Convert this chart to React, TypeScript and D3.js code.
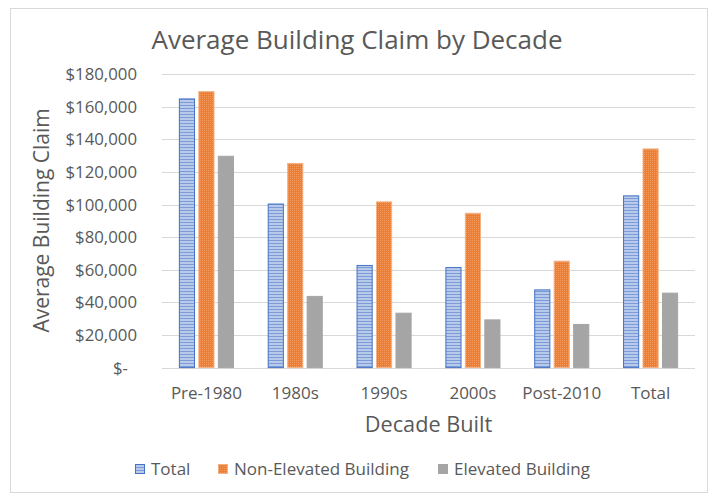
import { useEffect, useRef } from 'react'
import * as d3 from 'd3'

const CATEGORIES = ['Pre-1980', '1980s', '1990s', '2000s', 'Post-2010', 'Total']
const SERIES = ['Total', 'Non-Elevated Building', 'Elevated Building']
const TOTAL = [165200, 100700, 63000, 61700, 48000, 105700]
const NON_ELEVATED = [169700, 125600, 102000, 95000, 65600, 134500]
const ELEVATED = [130000, 44000, 33700, 29600, 26800, 46000]
const Y_TICKS = [0, 20000, 40000, 60000, 80000, 100000, 120000, 140000, 160000, 180000]

const FILLS = ['url(#pat-total)', 'url(#pat-nonelev)', '#A5A5A5']
const STROKES = ['#4472C4', '#F4B183', '#A5A5A5']
const FONT = '"Open Sans", Calibri, sans-serif'
const TEXT = '#595959'

export default function App() {
  const svgRef = useRef<SVGSVGElement>(null)

  useEffect(() => {
    if (!svgRef.current) return
    const svg = d3.select(svgRef.current)
    svg.selectAll('*').remove()

    const H = 500
    const plot = { left: 162, right: 695, top: 74.3, bottom: 367.6 }

    // patterns
    const defs = svg.append('defs')
    const pt = defs.append('pattern').attr('id', 'pat-total')
      .attr('patternUnits', 'userSpaceOnUse').attr('width', 4).attr('height', 3)
    pt.append('rect').attr('width', 4).attr('height', 3).attr('fill', '#B8CAEA')
    pt.append('rect').attr('y', 0).attr('width', 4).attr('height', 1).attr('fill', '#7D9BD8')
    const pn = defs.append('pattern').attr('id', 'pat-nonelev')
      .attr('patternUnits', 'userSpaceOnUse').attr('width', 2).attr('height', 2)
    pn.append('rect').attr('width', 2).attr('height', 2).attr('fill', '#ED7D31')
    pn.append('rect').attr('width', 1).attr('height', 1).attr('fill', '#F29A60')

    // chart border
    svg.append('rect').attr('x', 10.5).attr('y', 8.5).attr('width', 697).attr('height', 484)
      .attr('fill', '#fff').attr('stroke', '#D9D9D9')

    const y = d3.scaleLinear().domain([0, 180000]).range([plot.bottom, plot.top])
    const x0 = d3.scaleBand<string>().domain(CATEGORIES).range([plot.left, plot.right])
      .paddingInner(0.38).paddingOuter(0.19)
    const x1 = d3.scaleBand<string>().domain(SERIES).range([0, x0.bandwidth()]).paddingInner(0.17)

    // gridlines
    svg.append('g').selectAll('line').data(Y_TICKS).join('line')
      .attr('x1', plot.left).attr('x2', plot.right)
      .attr('y1', d => Math.round(y(d)) + 0.5).attr('y2', d => Math.round(y(d)) + 0.5)
      .attr('stroke', '#D9D9D9').attr('stroke-width', 1)

    // y tick labels
    svg.append('g').selectAll('text').data(Y_TICKS).join('text')
      .attr('x', d => (d === 0 ? 128 : 137)).attr('y', d => y(d) + 6)
      .attr('text-anchor', 'end').attr('font-size', '16.8px').attr('font-family', FONT).attr('fill', TEXT)
      .text(d => (d === 0 ? '$-' : d3.format('$,')(d)))

    // bars
    const seriesValues = [TOTAL, NON_ELEVATED, ELEVATED]
    const g = svg.append('g')
    seriesValues.forEach((vals, si) => {
      g.append('g').selectAll('rect').data(vals).join('rect')
        .attr('x', (_, i) => x0(CATEGORIES[i])! + x1(SERIES[si])! + 0.5)
        .attr('y', d => y(d) + 0.5)
        .attr('width', x1.bandwidth() - 1)
        .attr('height', d => plot.bottom - y(d) - 0.5)
        .attr('fill', FILLS[si]).attr('stroke', STROKES[si]).attr('stroke-width', 1)
    })

    // x tick labels
    svg.append('g').selectAll('text').data(CATEGORIES).join('text')
      .attr('x', d => x0(d)! + x0.bandwidth() / 2).attr('y', 399)
      .attr('text-anchor', 'middle').attr('font-size', '17px').attr('font-family', FONT).attr('fill', TEXT)
      .text(d => d)

    // axis titles
    svg.append('text').attr('x', (plot.left + plot.right) / 2).attr('y', 432)
      .attr('text-anchor', 'middle').attr('font-size', '21.7px').attr('font-family', FONT).attr('fill', TEXT)
      .text('Decade Built')
    svg.append('text').attr('transform', `translate(49,${(plot.top + plot.bottom) / 2 - 0.5}) rotate(-90)`)
      .attr('text-anchor', 'middle').attr('font-size', '21px').attr('font-family', FONT).attr('fill', TEXT)
      .text('Average Building Claim')

    // title
    svg.append('text').attr('x', 357).attr('y', 49)
      .attr('text-anchor', 'middle').attr('font-size', '26px').attr('font-family', FONT).attr('fill', TEXT)
      .text('Average Building Claim by Decade')

    // legend
    const legendX = [135, 218, 438]
    const lg = svg.append('g').attr('transform', `translate(0,${H - 36})`)
    SERIES.forEach((s, i) => {
      lg.append('rect').attr('x', legendX[i] + 0.5).attr('y', 0.5).attr('width', 9).attr('height', 9)
        .attr('fill', FILLS[i]).attr('stroke', STROKES[i])
      lg.append('text').attr('x', legendX[i] + 16).attr('y', 11)
        .attr('font-size', '17px').attr('font-family', FONT).attr('fill', TEXT)
        .text(s)
    })
  }, [])

  return (
    <svg ref={svgRef} width={720} height={500}
      style={{ position: 'absolute', left: 0, top: 0, background: '#fff' }} />
  )
}
